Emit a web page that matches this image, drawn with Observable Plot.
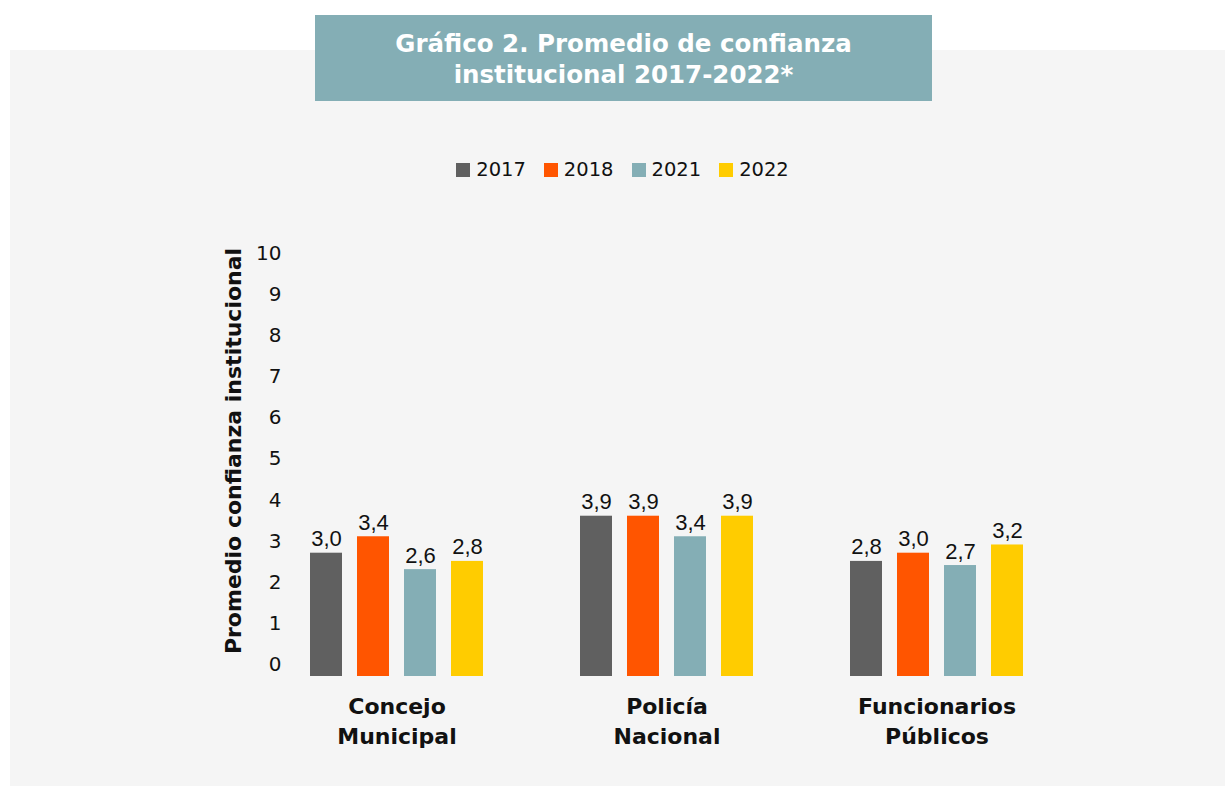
<!DOCTYPE html>
<html>
<head>
<meta charset="utf-8">
<script src="https://cdn.jsdelivr.net/npm/d3@7"></script>
<script src="https://cdn.jsdelivr.net/npm/@observablehq/plot@0.6"></script>
<style>
  html, body { margin: 0; padding: 0; background: #ffffff; }
  body { width: 1225px; height: 786px; position: relative; overflow: hidden; font-family: "DejaVu Sans", sans-serif; }
  #panel { position: absolute; left: 10px; top: 50px; width: 1215px; height: 736px; background: #f5f5f5; }
  #title { position: absolute; left: 315px; top: 15px; width: 617px; height: 86px; background: #84aeb5;
           color: #ffffff; font-weight: 700; font-size: 24.5px; line-height: 31px; text-align: center;
           display: flex; align-items: center; justify-content: center; box-sizing: border-box; padding-top: 2px; }
  #legend { position: absolute; left: 0; top: 158px; width: 1245px; text-align: center; font-size: 19.5px; color: #111; }
  #legend span.item { display: inline-flex; align-items: center; margin: 0 9px; }
  #legend span.sw { display: inline-block; width: 14px; height: 14px; margin-right: 6px; }
  #chart { position: absolute; left: 0; top: 0; }
</style>
</head>
<body>
<div id="panel"></div>
<div id="title">Gráfico 2. Promedio de confianza<br>institucional 2017-2022*</div>
<div id="legend"></div>
<div id="chart"></div>
<script>
const categories = ["Concejo Municipal", "Policía Nacional", "Funcionarios Públicos"];
const categoryLabels = ["Concejo\nMunicipal", "Policía\nNacional", "Funcionarios\nPúblicos"];
const years = ["2017", "2018", "2021", "2022"];
const colors = ["#606060", "#ff5500", "#84aeb5", "#ffcc00"];
const values2017 = [3.0, 3.9, 2.8];
const values2018 = [3.4, 3.9, 3.0];
const values2021 = [2.6, 3.4, 2.7];
const values2022 = [2.8, 3.9, 3.2];
const yTicks = [0, 1, 2, 3, 4, 5, 6, 7, 8, 9, 10];
const yTitle = "Promedio confianza institucional";

const series = [values2017, values2018, values2021, values2022];
const data = [];
categories.forEach((c, i) => {
  years.forEach((y, j) => data.push({category: c, year: y, value: series[j][i]}));
});

const fmt = v => v.toFixed(1).replace(".", ",");
const labelMap = new Map(categories.map((c, i) => [c, categoryLabels[i]]));

// legend
const legend = document.getElementById("legend");
years.forEach((y, j) => {
  const s = document.createElement("span");
  s.className = "item";
  s.innerHTML = `<span class="sw" style="background:${colors[j]}"></span>${y}`;
  legend.appendChild(s);
});

const chart = Plot.plot({
  width: 1225,
  height: 786,
  marginLeft: 309,
  marginRight: 201,
  marginTop: 265,
  marginBottom: 110,
  style: {background: "transparent", fontFamily: "'DejaVu Sans', sans-serif"},
  fx: {domain: categories, paddingInner: 0.3519, paddingOuter: 0, label: null},
  x: {domain: years, paddingInner: 0.3287, paddingOuter: 0, axis: null},
  y: {domain: [0, 10], label: null},
  color: {domain: years, range: colors},
  marks: [
    Plot.barY(data, {fx: "category", x: "year", y: "value", fill: "year"}),
    Plot.text(data, {fx: "category", x: "year", y: "value", text: d => fmt(d.value),
      lineAnchor: "bottom", dy: -7, fontSize: 22, fill: "#111",
      fontFamily: "'Liberation Sans', Arial, sans-serif"}),
    Plot.axisY({ticks: yTicks, tickSize: 0, tickPadding: 0, dx: -28, dy: -12, fontSize: 20,
      label: null, tickFormat: d => String(d), fill: "#111"}),
    Plot.axisFx({anchor: "bottom", tickSize: 0, tickPadding: 16, label: null,
      tickFormat: d => labelMap.get(d), fontSize: 22, fontWeight: 700, lineHeight: 1.36, fill: "#111"}),
    Plot.text([yTitle], {fx: [categories[0]], frameAnchor: "left", textAnchor: "middle", rotate: -90,
      dx: -76, dy: -20, fontSize: 22, fontWeight: 700, fill: "#111"})
  ]
});
document.getElementById("chart").appendChild(chart);
</script>
</body>
</html>
